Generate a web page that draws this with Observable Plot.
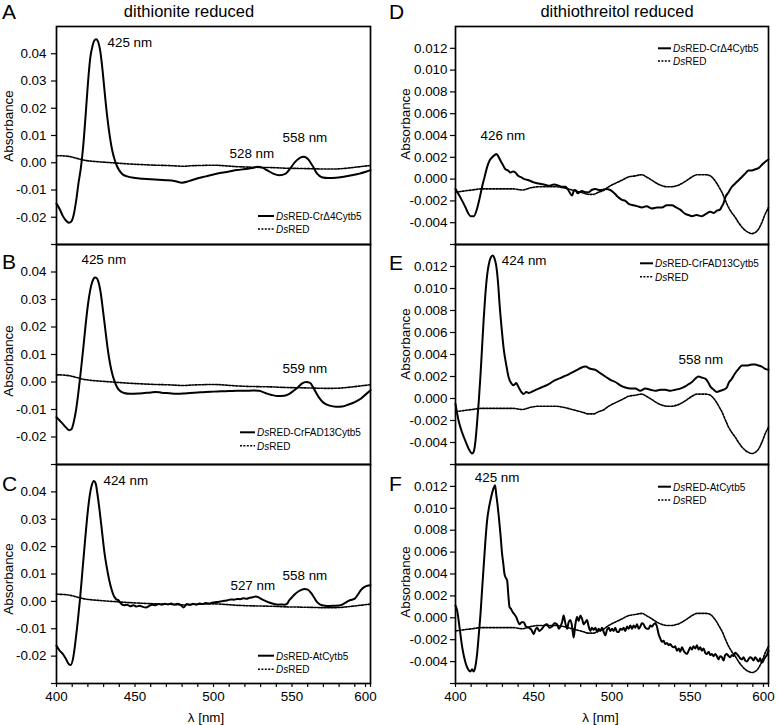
<!DOCTYPE html>
<html><head><meta charset="utf-8">
<script src="https://cdn.jsdelivr.net/npm/d3@7"></script>
<script src="https://cdn.jsdelivr.net/npm/@observablehq/plot@0.6"></script>
<style>
body{margin:0;background:#fff;}
#fig{position:relative;width:777px;height:725px;font-family:"Liberation Sans",Arial,Helvetica,sans-serif;}
#fig svg{position:absolute;}
#fig svg.panel g[aria-label$="tick label"], #fig svg.panel g[aria-label$="tick label"] text{font-size:13.4px !important;font-family:"Liberation Sans",Arial,Helvetica,sans-serif !important;font-variant:normal !important;}
#fig svg.panel g[aria-label="text"], #fig svg.panel g[aria-label="text"] text{font-size:13.4px !important;}
</style></head>
<body><div id="fig"></div>
<script>
// ---------- data ----------
const xTicks = [400,410,420,430,440,450,460,470,480,490,500,510,520,530,540,550,560,570,580,590,600];
const xTickLabels = [400,450,500,550];
const xTickLabelLast = [600];
const yTicksDithionite = [-0.03,-0.02,-0.01,0,0.01,0.02,0.03,0.04];
const yLabelsDithionite = [-0.02,-0.01,0,0.01,0.02,0.03,0.04];
const yTicksDTT = [-0.006,-0.004,-0.002,0,0.002,0.004,0.006,0.008,0.010,0.012];
const yLabelsDTT = [-0.004,-0.002,0,0.002,0.004,0.006,0.008,0.010,0.012];
const yDomainDithionite = [-0.03, 0.05];
const yDomainDTT = [-0.006, 0.014];

const panelTitles = ["dithionite reduced", "dithiothreitol reduced"];
const panelLetters = ["A","B","C","D","E","F"];
const sampleNames = ["RED-CrΔ4Cytb5","RED-CrFAD13Cytb5","RED-AtCytb5","RED-CrΔ4Cytb5","RED-CrFAD13Cytb5","RED-AtCytb5"];

// DsRED control, dithionite reduced
const dsredDithionite = [[400,0.0026],[405,0.0025],[409,0.0022],[413,0.0016],[417,0.0010],[422,0.0006],[428,0.0003],[435,0.0000],[440,-0.0002],[448,-0.0005],[455,-0.0007],[463,-0.0009],[470,-0.0010],[477,-0.0012],[481,-0.0013],[486,-0.0011],[492,-0.0010],[500,-0.0009],[507,-0.0011],[514,-0.0014],[522,-0.0016],[530,-0.0017],[538,-0.0018],[546,-0.0020],[555,-0.0021],[563,-0.0022],[570,-0.0023],[577,-0.0023],[583,-0.0021],[588,-0.0018],[594,-0.0014],[600,-0.0010]];

// DsRED control, dithiothreitol reduced
const dsredDTT = [[400,-0.0012],[405,-0.0011],[410.6,-0.0010],[416,-0.0009],[421.3,-0.0009],[426.6,-0.0009],[431.9,-0.0009],[437,-0.0009],[442.6,-0.0010],[448,-0.0008],[453.2,-0.0007],[458.5,-0.0007],[463.8,-0.0007],[469,-0.0008],[474.5,-0.0010],[480,-0.0012],[485.1,-0.0014],[488,-0.0014],[491.5,-0.0012],[495,-0.0010],[497.9,-0.0007],[502,-0.0004],[506.4,-0.0001],[510.6,0.0002],[514.9,0.0003],[519.1,0.0004],[522,0.0002],[525.5,-0.0001],[528.7,-0.0004],[531.9,-0.0006],[535,-0.0007],[538.3,-0.0007],[541.5,-0.0006],[544.7,-0.0004],[548,-0.0001],[551.1,0.0002],[554.3,0.0004],[557.4,0.0004],[560,0.0004],[562.8,0.0003],[565,0.0000],[567,-0.0004],[569,-0.0009],[570.2,-0.0012],[572.3,-0.0019],[574.5,-0.0026],[576.6,-0.0031],[578.7,-0.0035],[580.9,-0.0040],[583,-0.0044],[585.1,-0.0047],[587.2,-0.0049],[589.4,-0.0050],[591.5,-0.0049],[593.6,-0.0046],[595.7,-0.0040],[597.9,-0.0032],[600,-0.0026]];

const spectrumA = [[400,-0.0150],[402,-0.0170],[404,-0.0195],[406,-0.0212],[408,-0.0220],[409.5,-0.0215],[411,-0.0190],[412.5,-0.0140],[414,-0.0075],[415.5,-0.0020],[417,0.0060],[418.5,0.0170],[420,0.0290],[421.5,0.0385],[423,0.0430],[424.3,0.0450],[425.3,0.0453],[426.5,0.0444],[428,0.0405],[429.5,0.0330],[431,0.0240],[432.5,0.0160],[434,0.0095],[435.5,0.0045],[437,0.0012],[438.5,-0.0012],[440,-0.0028],[442,-0.0042],[445,-0.0050],[450,-0.0056],[455,-0.0059],[460,-0.0061],[465,-0.0062],[470,-0.0064],[475,-0.0067],[480,-0.0073],[483,-0.0070],[486,-0.0064],[490,-0.0057],[495,-0.0050],[500,-0.0043],[505,-0.0037],[510,-0.0032],[515,-0.0027],[520,-0.0023],[525,-0.0019],[528,-0.0015],[531,-0.0018],[534,-0.0027],[538,-0.0040],[542,-0.0046],[546,-0.0040],[549,-0.0020],[552,0.0003],[555,0.0018],[557.5,0.0022],[560,0.0015],[563,-0.0010],[566,-0.0040],[569,-0.0053],[573,-0.0056],[578,-0.0055],[583,-0.0051],[588,-0.0046],[593,-0.0040],[597,-0.0033],[600,-0.0027]];

const spectrumB = [[400,-0.0128],[402,-0.0140],[404,-0.0152],[406,-0.0165],[408,-0.0175],[409.5,-0.0172],[411,-0.0145],[412.5,-0.0100],[414,-0.0035],[415.5,0.0040],[417,0.0120],[418.5,0.0205],[420,0.0280],[421.5,0.0335],[423,0.0368],[424.5,0.0380],[425.5,0.0378],[426.5,0.0368],[428,0.0330],[429.5,0.0265],[431,0.0195],[432.5,0.0125],[434,0.0070],[435.5,0.0030],[437,0.0002],[438.5,-0.0018],[440,-0.0030],[443,-0.0040],[447,-0.0043],[452,-0.0042],[456,-0.0040],[460,-0.0038],[463,-0.0036],[467,-0.0039],[472,-0.0041],[476,-0.0043],[480,-0.0042],[485,-0.0040],[490,-0.0038],[495,-0.0036],[500,-0.0035],[505,-0.0034],[510,-0.0033],[515,-0.0032],[520,-0.0032],[525,-0.0031],[529,-0.0032],[533,-0.0040],[537,-0.0047],[541,-0.0051],[545,-0.0050],[548,-0.0044],[551,-0.0032],[554,-0.0018],[556.5,-0.0005],[559,0.0000],[561.5,-0.0003],[564,-0.0025],[567,-0.0055],[570,-0.0075],[574,-0.0086],[578,-0.0090],[582,-0.0089],[586,-0.0082],[590,-0.0073],[594,-0.0060],[597,-0.0045],[600,-0.0030]];

const spectrumC = [[400,-0.0162],[402,-0.0180],[404,-0.0192],[406,-0.0210],[408,-0.0230],[409,-0.0232],[410.5,-0.0210],[412,-0.0150],[413.5,-0.0075],[415,0.0010],[416.5,0.0110],[418,0.0210],[419.5,0.0305],[421,0.0380],[422.5,0.0425],[423.8,0.0440],[425,0.0430],[426,0.0395],[427.5,0.0330],[429,0.0255],[430.5,0.0180],[432,0.0125],[433.5,0.0080],[435,0.0045],[436.5,0.0020],[438,0.0008],[439.5,0.0004],[441,-0.0008],[443,-0.0014],[445,-0.0012],[447,-0.0018],[449,-0.0014],[451,-0.0019],[453,-0.0016],[455,-0.0020],[457,-0.0022],[459,-0.0017],[461,-0.0012],[463,-0.0014],[465,-0.0010],[467,-0.0012],[469,-0.0009],[471,-0.0011],[473,-0.0008],[475,-0.0012],[477,-0.0009],[479,-0.0013],[481,-0.0022],[483,-0.0010],[485,-0.0013],[487,-0.0009],[489,-0.0012],[491,-0.0008],[493,-0.0010],[495,-0.0006],[497,-0.0008],[499,-0.0005],[501,-0.0003],[503,-0.0002],[505,0.0000],[507,0.0002],[509,0.0004],[511,0.0007],[513,0.0006],[515,0.0009],[517,0.0008],[519,0.0011],[521,0.0010],[523,0.0013],[525,0.0015],[527,0.0018],[529,0.0014],[531,0.0007],[533,0.0002],[535,-0.0003],[537,-0.0007],[539,-0.0010],[541,-0.0012],[543,-0.0011],[545,-0.0012],[547,-0.0008],[548,0.0002],[550,0.0015],[552,0.0027],[554,0.0036],[556,0.0042],[558,0.0045],[560,0.0043],[562,0.0032],[564,0.0015],[566,-0.0003],[568,-0.0012],[571,-0.0016],[574,-0.0017],[577,-0.0016],[580,-0.0015],[582,-0.0012],[584,-0.0005],[586,0.0002],[588,0.0006],[590,0.0010],[592,0.0025],[594,0.0042],[596,0.0052],[598,0.0057],[600,0.0059]];

const spectrumD = [[400,-0.0009],[403.2,-0.0017],[406.4,-0.0026],[408,-0.0031],[409.6,-0.0034],[411.7,-0.0034],[413.8,-0.0027],[415.5,-0.0017],[417,-0.0007],[418.6,0.0002],[420.2,0.0011],[421.8,0.0017],[423.4,0.0020],[425,0.0022],[426,0.0023],[427.3,0.0021],[428.7,0.0017],[430.3,0.0013],[431.9,0.0009],[433.5,0.0008],[435.1,0.0006],[436.7,0.0007],[438.3,0.0006],[440,0.0003],[441.5,0.0002],[444,0.0000],[446.8,-0.0001],[450,-0.0003],[453.2,-0.0004],[456.5,-0.0005],[459.6,-0.0006],[463,-0.0005],[466,-0.0006],[468,-0.0007],[470.2,-0.0007],[472,-0.0010],[474.5,-0.0015],[475.5,-0.0011],[476.6,-0.0010],[478,-0.0013],[480.9,-0.0011],[483,-0.0012],[485.1,-0.0012],[487,-0.0010],[489.4,-0.0009],[491.5,-0.0010],[493.6,-0.0010],[496,-0.0009],[498.9,-0.0010],[501.5,-0.0013],[504.3,-0.0017],[506.4,-0.0019],[508.5,-0.0020],[511,-0.0023],[513.8,-0.0024],[516.5,-0.0025],[519.1,-0.0026],[522,-0.0025],[525.5,-0.0027],[528.7,-0.0026],[531.9,-0.0026],[535,-0.0024],[538.3,-0.0024],[541,-0.0026],[543.6,-0.0028],[546.8,-0.0032],[549,-0.0033],[551.1,-0.0034],[554,-0.0033],[557.4,-0.0034],[560,-0.0032],[562.8,-0.0030],[565,-0.0031],[567,-0.0029],[569,-0.0028],[570.2,-0.0025],[571.3,-0.0022],[572.3,-0.0017],[574.5,-0.0012],[576.6,-0.0007],[578.7,-0.0004],[580.9,-0.0001],[583,0.0002],[585.1,0.0005],[587.2,0.0008],[589.4,0.0008],[591.5,0.0009],[593.6,0.0010],[595.7,0.0013],[597.9,0.0016],[600,0.0018]];

const spectrumE = [[400,-0.0005],[402.1,-0.0021],[404,-0.0030],[405.3,-0.0035],[407,-0.0041],[408.5,-0.0046],[410.6,-0.0050],[411.7,-0.0048],[412.8,-0.0038],[413.8,-0.0022],[414.9,-0.0002],[416,0.0022],[417,0.0047],[418,0.0072],[419.1,0.0095],[420.2,0.0112],[421.3,0.0122],[422.5,0.0128],[423.8,0.0130],[425,0.0127],[426,0.0121],[427.2,0.0105],[428.3,0.0083],[429.6,0.0062],[430.9,0.0044],[432.5,0.0030],[434,0.0019],[435.5,0.0014],[437.2,0.0012],[438.8,0.0014],[440.4,0.0010],[442,0.0006],[443.6,0.0004],[445.2,0.0006],[446.8,0.0005],[450,0.0007],[453.2,0.0009],[456.4,0.0011],[459.6,0.0013],[462.8,0.0016],[466,0.0018],[469.2,0.0020],[472.3,0.0022],[475,0.0024],[477.7,0.0026],[480.3,0.0028],[483,0.0029],[486.2,0.0027],[489.4,0.0026],[492.5,0.0023],[495.7,0.0020],[499,0.0017],[502.1,0.0015],[505.3,0.0012],[508.5,0.0010],[511.7,0.0009],[514.9,0.0009],[518,0.0007],[521.3,0.0009],[524.5,0.0008],[527.7,0.0007],[531,0.0008],[534,0.0008],[537.2,0.0007],[540.4,0.0008],[543.6,0.0009],[546.8,0.0011],[549,0.0013],[551.1,0.0015],[553.2,0.0018],[555.3,0.0020],[557.4,0.0019],[559.6,0.0018],[561.7,0.0014],[562.8,0.0011],[565,0.0008],[567,0.0006],[569.1,0.0007],[571.3,0.0008],[573.4,0.0010],[574.5,0.0014],[576.6,0.0018],[578.7,0.0023],[580.9,0.0027],[583,0.0030],[586.2,0.0030],[589.4,0.0031],[591.5,0.0031],[593.6,0.0030],[595.7,0.0029],[597.9,0.0027],[600,0.0026]];

const spectrumF = [[400,0.0011],[401,0.0007],[402.6,-0.0009],[404.3,-0.0027],[406.4,-0.0041],[408.5,-0.0048],[409.5,-0.0049],[410.6,-0.0047],[411.5,-0.0049],[412.3,-0.0047],[413.8,-0.0033],[414.9,-0.0015],[416,0.0004],[417,0.0026],[418.1,0.0049],[419.1,0.0070],[420.2,0.0089],[421.3,0.0100],[422.3,0.0107],[423.4,0.0114],[424.5,0.0119],[425.3,0.0121],[426,0.0113],[426.8,0.0104],[427.7,0.0092],[428.8,0.0075],[429.8,0.0058],[430.5,0.0050],[431.3,0.0040],[432,0.0037],[433,0.0034],[433.8,0.0020],[434.5,0.0010],[435.5,0.0008],[436.6,0.0005],[437.7,0.0003],[438.7,0.0001],[439.8,-0.0003],[440.9,-0.0006],[442.2,-0.0004],[443.6,-0.0004],[445,-0.0008],[446.8,-0.0009],[448.5,-0.0011],[450,-0.0015],[451,-0.0011],[452.1,-0.0009],[453.6,-0.0012],[455.3,-0.0010],[456.8,-0.0007],[458.5,-0.0006],[460,-0.0009],[461.7,-0.0008],[463.2,-0.0005],[464.9,-0.0006],[466,-0.0010],[467,-0.0008],[468.1,-0.0004],[469.1,0.0002],[470.2,-0.0005],[471.3,-0.0010],[472.3,-0.0004],[473.4,-0.0002],[474.5,-0.0008],[475.5,-0.0018],[476.6,-0.0006],[477.7,0.0001],[478.7,-0.0003],[479.8,0.0002],[480.9,-0.0001],[481.9,-0.0006],[483,-0.0004],[484,-0.0002],[485.1,-0.0008],[486.2,-0.0012],[487.2,-0.0009],[488.3,-0.0011],[489.4,-0.0009],[490.5,-0.0013],[491.5,-0.0010],[492.6,-0.0012],[493.6,-0.0009],[494.7,-0.0013],[495.7,-0.0016],[496.8,-0.0011],[497.9,-0.0009],[499,-0.0012],[500,-0.0010],[501.1,-0.0012],[502.1,-0.0009],[503.2,-0.0013],[504.3,-0.0013],[505.3,-0.0010],[506.4,-0.0011],[507.4,-0.0009],[508.5,-0.0012],[509.6,-0.0008],[510.6,-0.0010],[511.7,-0.0007],[512.8,-0.0010],[513.8,-0.0007],[514.9,-0.0009],[516,-0.0006],[517,-0.0010],[518.1,-0.0008],[519.1,-0.0005],[520.2,-0.0006],[521.3,-0.0009],[522.3,-0.0010],[523.4,-0.0010],[524.5,-0.0007],[525.5,-0.0008],[526.6,-0.0006],[527.7,-0.0005],[528.7,-0.0008],[529.8,-0.0015],[530.9,-0.0019],[531.9,-0.0022],[533,-0.0021],[534,-0.0024],[535.1,-0.0023],[536.2,-0.0025],[537.2,-0.0024],[538.3,-0.0026],[539.4,-0.0027],[540.4,-0.0026],[541.5,-0.0030],[542.6,-0.0028],[543.6,-0.0031],[544.7,-0.0027],[545.8,-0.0030],[546.8,-0.0032],[547.9,-0.0033],[549,-0.0030],[550,-0.0027],[551.1,-0.0029],[552.1,-0.0026],[553.2,-0.0028],[554.3,-0.0025],[555.3,-0.0029],[556.4,-0.0027],[557.4,-0.0030],[558.5,-0.0028],[559.6,-0.0032],[560.6,-0.0033],[561.7,-0.0031],[562.8,-0.0034],[563.8,-0.0033],[564.9,-0.0035],[566,-0.0033],[567,-0.0035],[568.1,-0.0038],[569.1,-0.0035],[570.2,-0.0036],[571.3,-0.0039],[572.3,-0.0034],[573.4,-0.0033],[574.5,-0.0035],[575.5,-0.0036],[576.6,-0.0034],[577.7,-0.0035],[578.7,-0.0032],[579.8,-0.0033],[580.9,-0.0035],[581.9,-0.0037],[583,-0.0038],[584,-0.0036],[585.1,-0.0039],[586.2,-0.0040],[587.2,-0.0038],[588.3,-0.0036],[589.4,-0.0037],[590.4,-0.0039],[591.5,-0.0036],[592.6,-0.0038],[593.6,-0.0040],[594.7,-0.0037],[595.7,-0.0041],[596.8,-0.0039],[597.9,-0.0036],[599,-0.0034],[600,-0.0030]];

// peak annotations (wavelength, absorbance position, label)
const notesA = [{x:432.5,y:0.044,t:"425 nm"},{x:510.2,y:0.0032,t:"528 nm"},{x:544,y:0.0091,t:"558 nm"}];
const notesB = [{x:415.9,y:0.0446,t:"425 nm"},{x:544,y:0.0047,t:"559 nm"}];
const notesC = [{x:429.9,y:0.044,t:"424 nm"},{x:510.8,y:0.0059,t:"527 nm"},{x:544,y:0.0093,t:"558 nm"}];
const notesD = [{x:416,y:0.0040,t:"426 nm"}];
const notesE = [{x:429.6,y:0.0125,t:"424 nm"},{x:542.5,y:0.0035,t:"558 nm"}];
const notesF = [{x:412.3,y:0.0128,t:"425 nm"}];

// ---------- layout ----------
const FONT = '"Liberation Sans", Arial, Helvetica, sans-serif';
const fig = document.getElementById("fig");

const cols = [
  {left: 0, width: 377, marginLeft: 56, marginRight: 7, domain: yDomainDithionite, ticks: yTicksDithionite, labels: yLabelsDithionite, digits: 2, pad: 5},
  {left: 388, width: 389, marginLeft: 67, marginRight: 9, domain: yDomainDTT, ticks: yTicksDTT, labels: yLabelsDTT, digits: 3, pad: 3}
];
const rows = [
  {frameTop: 26, frameH: 218, bottom: false},
  {frameTop: 244, frameH: 220, bottom: false},
  {frameTop: 464, frameH: 219, bottom: true}
];
const panels = [
  {c:0, r:0, solid: spectrumA, dotted: dsredDithionite, notes: notesA},
  {c:0, r:1, solid: spectrumB, dotted: dsredDithionite, notes: notesB},
  {c:0, r:2, solid: spectrumC, dotted: dsredDithionite, notes: notesC},
  {c:1, r:0, solid: spectrumD, dotted: dsredDTT, notes: notesD},
  {c:1, r:1, solid: spectrumE, dotted: dsredDTT, notes: notesE},
  {c:1, r:2, solid: spectrumF, dotted: dsredDTT, notes: notesF}
];

panels.forEach(p => {
  const col = cols[p.c], row = rows[p.r];
  const mt = 10, mb = row.bottom ? 42 : 10;
  const svg = Plot.plot({
    width: col.width,
    height: mt + row.frameH + mb,
    marginLeft: col.marginLeft, marginRight: col.marginRight,
    marginTop: mt, marginBottom: mb,
    x: {domain: [400, 600], axis: null},
    y: {domain: col.domain, axis: null},
    style: {background: "transparent", overflow: "visible", fontFamily: FONT, fontSize: "13.4px", color: "black"},
    marks: [
      Plot.line(p.dotted, {x: d => d[0], y: d => d[1], stroke: "black", strokeWidth: 1.6, strokeDasharray: "2,1.4", curve: "monotone-x"}),
      Plot.line(p.solid, {x: d => d[0], y: d => d[1], stroke: "black", strokeWidth: 2, curve: "monotone-x"}),
      Plot.axisY(col.ticks, {tickSize: 5, tickPadding: col.pad, strokeWidth: 1.2, fontSize: 13.4,
        tickFormat: d => col.labels.some(v => Math.abs(v - d) < 1e-9) ? d.toFixed(col.digits) : "", label: null}),
      row.bottom ? Plot.axisX(xTicks, {tickSize: 4, tickPadding: 4, strokeWidth: 1.2, fontSize: 13.4,
        tickFormat: d => xTickLabels.includes(d) ? String(d) : "", label: null}) : null,
      row.bottom ? Plot.axisX(xTickLabelLast, {tickSize: 4, tickPadding: 4, strokeWidth: 1.2, fontSize: 13.4, dx: -5,
        tickFormat: d => String(d), label: null}) : null,
      Plot.text(p.notes, {x: "x", y: "y", text: "t", textAnchor: "start", fontSize: 13.4, fill: "black"}),
      Plot.frame({stroke: "black", strokeWidth: 1.7})
    ]
  });
  svg.classList.add("panel");
  svg.style.left = col.left + "px";
  svg.style.top = (row.frameTop - mt) + "px";
  fig.appendChild(svg);
});

// ---------- overlay text: letters, titles, axis labels, legends ----------
const ov = d3.create("svg").attr("width", 777).attr("height", 725)
  .style("left", "0px").style("top", "0px").style("pointer-events", "none")
  .style("font-family", FONT);

const letterPos = [[2,19],[2,269],[2,491],[389,19],[389,270],[389,491]];
panelLetters.forEach((L, i) => ov.append("text").attr("x", letterPos[i][0]).attr("y", letterPos[i][1]).attr("font-size", 21).text(L));

ov.append("text").attr("x", 189).attr("y", 17).attr("text-anchor", "middle").attr("font-size", 16.5).text(panelTitles[0]);
ov.append("text").attr("x", 617).attr("y", 17).attr("text-anchor", "middle").attr("font-size", 16.5).text(panelTitles[1]);

const ylabPos = [[8,126],[8,361],[8,579],[405,124],[405,344],[405,582]];
ylabPos.forEach(([x, y]) => ov.append("text").attr("transform", `translate(${x},${y}) rotate(-90)`)
  .attr("text-anchor", "middle").attr("dominant-baseline", "central").attr("font-size", 13.4).text("Absorbance"));

[[206,717],[600.5,717]].forEach(([x, y]) => ov.append("text").attr("x", x).attr("y", y)
  .attr("text-anchor", "middle").attr("dominant-baseline", "central").attr("font-size", 13.4).text("λ [nm]"));

const legendPos = [
  {x1:258, x2:274, y1:216, y2:229},
  {x1:240, x2:255, y1:432.3, y2:445.7},
  {x1:258, x2:274, y1:655.7, y2:669.3},
  {x1:658, x2:671, y1:48.3, y2:61},
  {x1:640, x2:653, y1:263.3, y2:276.7},
  {x1:658, x2:671, y1:486.7, y2:500}
];
legendPos.forEach((g, i) => {
  ov.append("line").attr("x1", g.x1).attr("x2", g.x2).attr("y1", g.y1).attr("y2", g.y1).attr("stroke", "black").attr("stroke-width", 2);
  ov.append("line").attr("x1", g.x1).attr("x2", g.x2).attr("y1", g.y2).attr("y2", g.y2).attr("stroke", "black").attr("stroke-width", 1.6).attr("stroke-dasharray", "2,1.4");
  const t1 = ov.append("text").attr("x", g.x2 + 2).attr("y", g.y1).attr("dominant-baseline", "central").attr("font-size", 10);
  t1.append("tspan").attr("font-style", "italic").text("Ds");
  t1.append("tspan").text(sampleNames[i]);
  const t2 = ov.append("text").attr("x", g.x2 + 2).attr("y", g.y2).attr("dominant-baseline", "central").attr("font-size", 10);
  t2.append("tspan").attr("font-style", "italic").text("Ds");
  t2.append("tspan").text("RED");
});
fig.appendChild(ov.node());
</script></body></html>
